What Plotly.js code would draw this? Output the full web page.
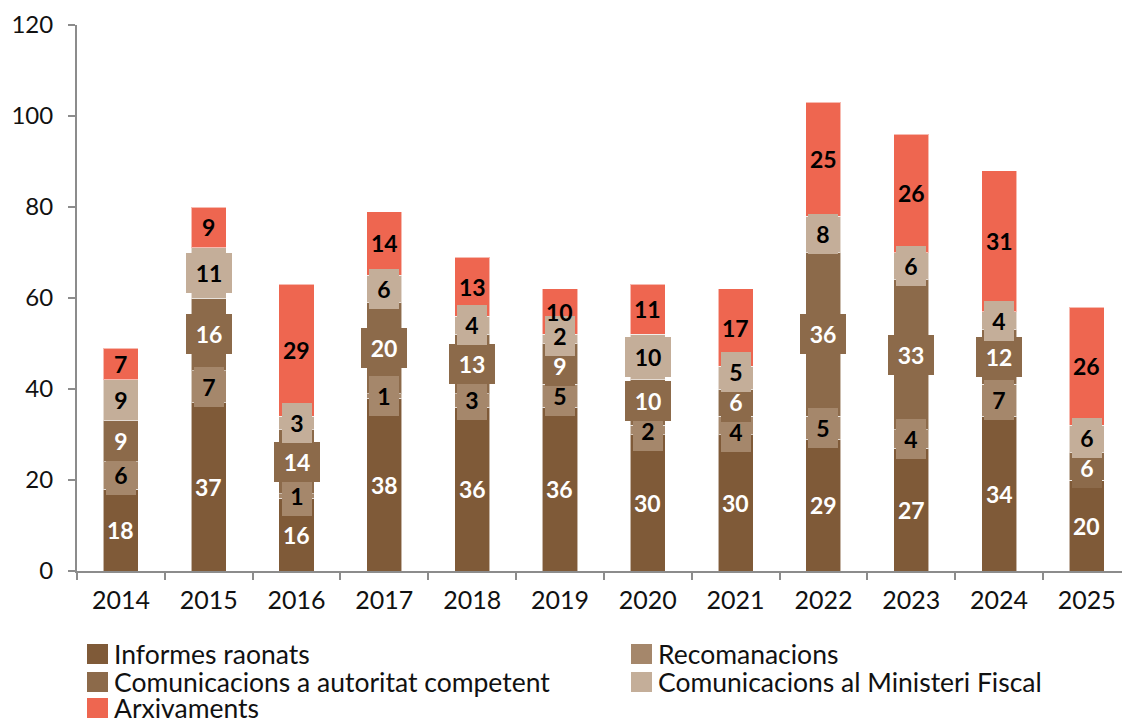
<!DOCTYPE html>
<html>
<head>
<meta charset="utf-8">
<script src="https://cdn.plot.ly/plotly-3.0.1.min.js"></script>
<style>html,body{margin:0;padding:0;background:#fff;}</style>
</head>
<body>
<div id="chart" style="width:1122px;height:722px;"></div>
<script>
const years = ['2014','2015','2016','2017','2018','2019','2020','2021','2022','2023','2024','2025'];
const informesRaonats = [18,37,16,38,36,36,30,30,29,27,34,20];
const recomanacions = [6,7,1,1,3,5,2,4,5,4,7,0];
const comAutoritat = [9,16,14,20,13,9,10,6,36,33,12,6];
const comMinisteri = [9,11,3,6,4,2,10,5,8,6,4,6];
const arxivaments = [7,9,29,14,13,10,11,17,25,26,31,26];
const seriesNames = ['Informes raonats','Recomanacions','Comunicacions a autoritat competent','Comunicacions al Ministeri Fiscal','Arxivaments'];

const seriesData = [informesRaonats, recomanacions, comAutoritat, comMinisteri, arxivaments];
const colors = ['#7f5a38','#a5876b','#8c6a4a','#c4ae99','#ee6650'];
const textColors = ['#ffffff','#000000','#ffffff','#000000','#000000'];
const boxed = [false,true,true,true,false];

const FONT = 'Lato, "Noto Sans", sans-serif';

const L = 77, PW = 1045, T = 25, PH = 546;
const YMAX = 120;
const pxPerUnit = PH / YMAX;

const traces = seriesData.map((vals, i) => ({
  type: 'bar',
  name: seriesNames[i],
  x: years,
  y: vals,
  marker: {color: colors[i], line: {color: 'rgba(255,255,255,0.55)', width: 1}},
  width: 0.4,
  hoverinfo: 'x+y+name',
  showlegend: false
}));

// label positions: segment centres, then a light separation so boxed labels don't collide
const labels = [];
years.forEach((yr, k) => {
  let c = 0;
  const col = [];
  seriesData.forEach((vals, s) => {
    const v = vals[k];
    if (v > 0) col.push({s, k, v, y: c + v / 2});
    c += v;
  });
  const bx = col.filter(o => boxed[o.s]);
  const minSep = 30 / pxPerUnit;
  for (let it = 0; it < 60; it++) {
    for (let j = 0; j < bx.length - 1; j++) {
      const gap = bx[j + 1].y - bx[j].y;
      if (gap < minSep) {
        const d = (minSep - gap) / 2;
        bx[j].y -= d; bx[j + 1].y += d;
      }
    }
  }
  col.forEach(o => labels.push(o));
});

const annotations = [];
labels.forEach(o => {
  const txt = String(o.v);
  const a = {
    x: o.k, y: o.y, xref: 'x', yref: 'y',
    text: '<b>' + txt + '</b>', showarrow: false,
    xanchor: 'center', yanchor: 'middle',
    font: {family: FONT, size: 23, color: textColors[o.s]},
    align: 'center', valign: 'middle', borderpad: 0, borderwidth: 0
  };
  if (boxed[o.s]) {
    a.bgcolor = colors[o.s];
    a.width = txt.length > 1 ? 46 : 30;
    a.height = 40;
  }
  annotations.push(a);
});

// legend drawn manually
const px2x = px => (px - L) / PW;
const py2y = py => (T + PH - py) / PH;
const shapes = [];
const legendPos = [[87,654],[631,654],[87,682],[631,682],[87,708]];
seriesNames.forEach((nm, i) => {
  const [lx, ly] = legendPos[i];
  shapes.push({type:'rect', xref:'paper', yref:'paper',
    x0: px2x(lx), x1: px2x(lx+21), y0: py2y(ly-10), y1: py2y(ly+10),
    fillcolor: colors[i], line: {width: 0}});
  annotations.push({xref:'paper', yref:'paper', x: px2x(lx+25), y: py2y(ly),
    xanchor:'left', yanchor:'middle', showarrow:false, text: nm,
    font:{family: FONT, size: 26.5, color:'#111'}});
});

const layout = {
  width: 1122, height: 722,
  margin: {l: L, r: 0, t: T, b: 722 - T - PH},
  paper_bgcolor: '#ffffff', plot_bgcolor: '#ffffff',
  barmode: 'stack',
  showlegend: false,
  font: {family: FONT, size: 24, color: '#111'},
  xaxis: {
    type: 'category', range: [-0.5, 11.4],
    showline: true, linecolor: '#8c8c8c', linewidth: 2,
    ticks: 'outside', tickson: 'boundaries', ticklen: 7, tickcolor: '#8c8c8c', tickwidth: 2,
    showgrid: false, zeroline: false,
    tickfont: {family: FONT, size: 25, color: '#111'},
    ticklabelstandoff: 6
  },
  yaxis: {
    range: [0, YMAX], dtick: 20, tick0: 0,
    showline: true, linecolor: '#8c8c8c', linewidth: 2,
    ticks: 'outside', ticklen: 7, tickcolor: '#8c8c8c', tickwidth: 2,
    showgrid: false, zeroline: false,
    tickfont: {family: FONT, size: 24, color: '#111'},
    ticklabelstandoff: 10
  },
  annotations: annotations,
  shapes: shapes
};

Plotly.newPlot('chart', traces, layout, {displayModeBar: false, staticPlot: true});
</script>
</body>
</html>
